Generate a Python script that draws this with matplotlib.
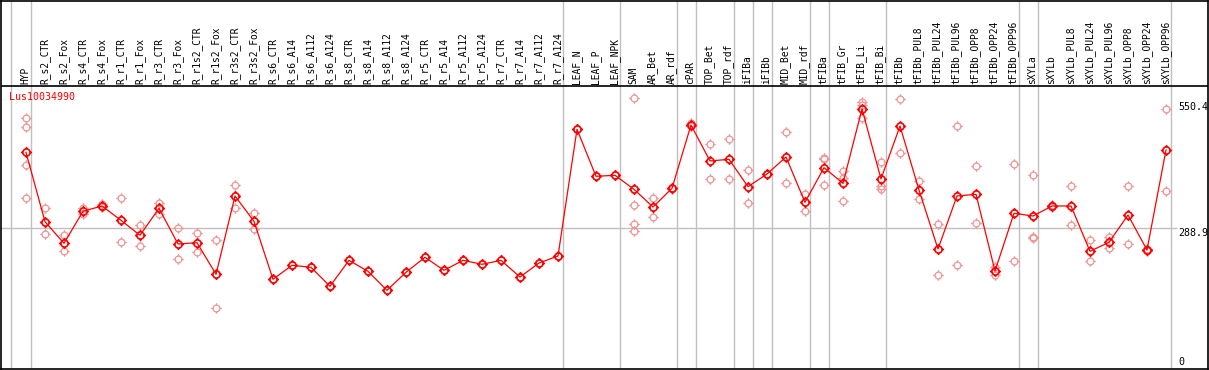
import matplotlib
matplotlib.use("Agg")
import matplotlib.pyplot as plt
from matplotlib.path import Path
import numpy as np

categories = ["HYP", "R_s2_CTR", "R_s2_Fox", "R_s4_CTR", "R_s4_Fox", "R_r1_CTR", "R_r1_Fox",
              "R_r3_CTR", "R_r3_Fox", "R_r1s2_CTR", "R_r1s2_Fox", "R_r3s2_CTR", "R_r3s2_Fox",
              "R_s6_CTR", "R_s6_A14", "R_s6_A112", "R_s6_A124", "R_s8_CTR", "R_s8_A14",
              "R_s8_A112", "R_s8_A124", "R_r5_CTR", "R_r5_A14", "R_r5_A112", "R_r5_A124",
              "R_r7_CTR", "R_r7_A14", "R_r7_A112", "R_r7_A124", "LEAF_N", "LEAF_P", "LEAF_NPK",
              "SAM", "AR_Bet", "AR_rdf", "cPAR", "TOP_Bet", "TOP_rdf", "iFIBa", "iFIBb",
              "MID_Bet", "MID_rdf", "tFIBa", "tFIB_Gr", "tFIB_Li", "tFIB_Bi", "tFIBb",
              "tFIBb_PUL8", "tFIBb_PUL24", "tFIBb_PUL96", "tFIBb_OPP8", "tFIBb_OPP24",
              "tFIBb_OPP96", "sXYLa", "sXYLb", "sXYLb_PUL8", "sXYLb_PUL24", "sXYLb_PUL96",
              "sXYLb_OPP8", "sXYLb_OPP24", "sXYLb_OPP96"]

means = [447.9, 302.7, 257.5, 324.5, 335.6, 305.6, 274.3, 330.7, 256.1, 258.8, 192.7,
         356.5, 303.5, 182.2, 211.5, 207.3, 167.6, 221.9, 198.9, 159.2, 196.9, 228.2,
         201.0, 221.9, 213.6, 221.9, 187.0, 216.3, 230.9, 496.0, 397.7, 399.8, 370.5,
         333.5, 372.6, 505.0, 429.7, 433.3, 376.0, 402.5, 438.1, 343.3, 415.7, 383.1,
         538.5, 392.1, 502.9, 369.0, 245.6, 356.5, 360.0, 199.6, 320.3, 314.6, 335.6,
         335.6, 240.8, 259.6, 316.7, 243.5, 452.7]

replicates = [
    [519.7, 500.2, 420.7, 351.7], [330.7, 277.0], [274.9, 242.1], [330.7, 318.8],
    [340.0, 333.0], [351.7, 259.6], [296.4, 251.9], [341.2, 318.8], [288.9, 224.1],
    [278.5, 240.0], [263.8, 121.5], [378.9, 332.0], [320.3, 288.1], [182.2], [211.5],
    [207.3], [167.6], [221.9], [198.9], [159.2], [196.9], [228.2], [201.0], [221.9],
    [213.6], [221.9], [187.0], [216.3], [230.9], [496.0], [397.7], [399.8],
    [561.5, 337.0, 297.3, 283.3], [351.7, 311.9], [371.5, 373.5], [509.9, 502.9],
    [464.6, 391.4], [475.1, 391.4], [410.3, 341.2], [403.5, 401.5], [489.7, 383.1],
    [360.0, 324.5], [436.0, 433.3, 378.9], [408.8, 394.1, 346.0], [552.5, 546.9, 519.0],
    [427.0, 377.4, 371.1], [558.8, 445.8], [387.9, 350.2], [297.3, 191.2],
    [502.9, 212.1], [418.6, 299.4], [208.6, 190.6], [423.4, 219.9],
    [399.8, 271.3, 269.0], [333.0, 338.0], [376.8, 295.8], [264.4, 219.9],
    [271.3, 247.1], [376.8, 256.1], [245.0, 242.0], [538.5, 366.9]]

gene_name = "Lus10034990"
ref_ticks = [550.4, 288.9, 0]
ref_tick_labels = ["550.4", "288.9", "0"]
group_ends = [0, 28, 31, 34, 35, 37, 38, 39, 41, 42, 45, 52, 53, 60]

W, H = 1209, 370
fig = plt.figure(figsize=(W / 100, H / 100), dpi=100)
fig.patch.set_facecolor("white")

left_px, right_px, top_px, bot_px = 1.0, 1207.7, 0.5, 369.0
ax = fig.add_axes([left_px / W, (H - bot_px) / H, (right_px - left_px) / W, (bot_px - top_px) / H])

x0, dx = 26.0, 19.0
def px_to_i(p):
    return (p - x0) / dx
y0px, sy = 366.4, 0.478
def py_to_v(p):
    return (y0px - p) / sy

ax.set_xlim(px_to_i(left_px), px_to_i(right_px))
ax.set_ylim(py_to_v(bot_px), py_to_v(top_px))
ax.set_xticks([])
ax.set_yticks([])
for s in ax.spines.values():
    s.set_color("black")
    s.set_linewidth(1.2)

# header separator
ax.axhline(py_to_v(85.7), color="black", lw=1.2, zorder=3)

# group separators
gray = "#c0c0c0"
ax.axvline(px_to_i(10.7), color=gray, lw=1.0, zorder=1)
for g in group_ends:
    ax.axvline(g + 0.24, color=gray, lw=1.0, zorder=1)

# reference line
ax.plot([px_to_i(left_px), px_to_i(1176)], [ref_ticks[1], ref_ticks[1]], color=gray, lw=1.0, zorder=1)

# marker path: polygonal circle with four ticks
theta = np.linspace(0, 2 * np.pi, 33)
verts = [(np.cos(t), np.sin(t)) for t in theta]
codes = [Path.MOVETO] + [Path.LINETO] * (len(theta) - 1)
for a, b in [((0, 1.0), (0, 1.55)), ((0, -1.0), (0, -1.55)), ((1.0, 0), (1.55, 0)), ((-1.0, 0), (-1.55, 0))]:
    verts += [a, b]
    codes += [Path.MOVETO, Path.LINETO]
mk = Path(verts, codes)

x = np.arange(len(categories))
rx, ry = [], []
for i, reps in enumerate(replicates):
    for v in reps:
        rx.append(i)
        ry.append(v)
ax.plot(rx, ry, linestyle="none", marker=mk, markersize=7.6, markerfacecolor="none",
        markeredgecolor="#f09494", markeredgewidth=0.9, zorder=4)

ax.plot(x, means, color="red", lw=0.9, zorder=5)
ax.plot(x, means, linestyle="none", marker=mk, markersize=8.0, markerfacecolor="none",
        markeredgecolor="red", markeredgewidth=1.2, zorder=6)

mono = "DejaVu Sans Mono"
for i, c in enumerate(categories):
    ax.text(i - 0.03, py_to_v(83.5), c, rotation=90, ha="center", va="bottom",
            fontsize=6.9, family=mono, color="black", zorder=7)

ax.text(px_to_i(9.0), py_to_v(97.0), gene_name, ha="left", va="center",
        fontsize=7.2, family=mono, color="red", zorder=7)

label_centers_px = [106.7, 232.7, 361.7]
for yc, lab in zip(label_centers_px, ref_tick_labels):
    ax.text(px_to_i(1178), py_to_v(yc), lab, ha="left", va="center", fontsize=7.2, family=mono,
            color="black", zorder=7)

fig.savefig("out.png", dpi=100)
